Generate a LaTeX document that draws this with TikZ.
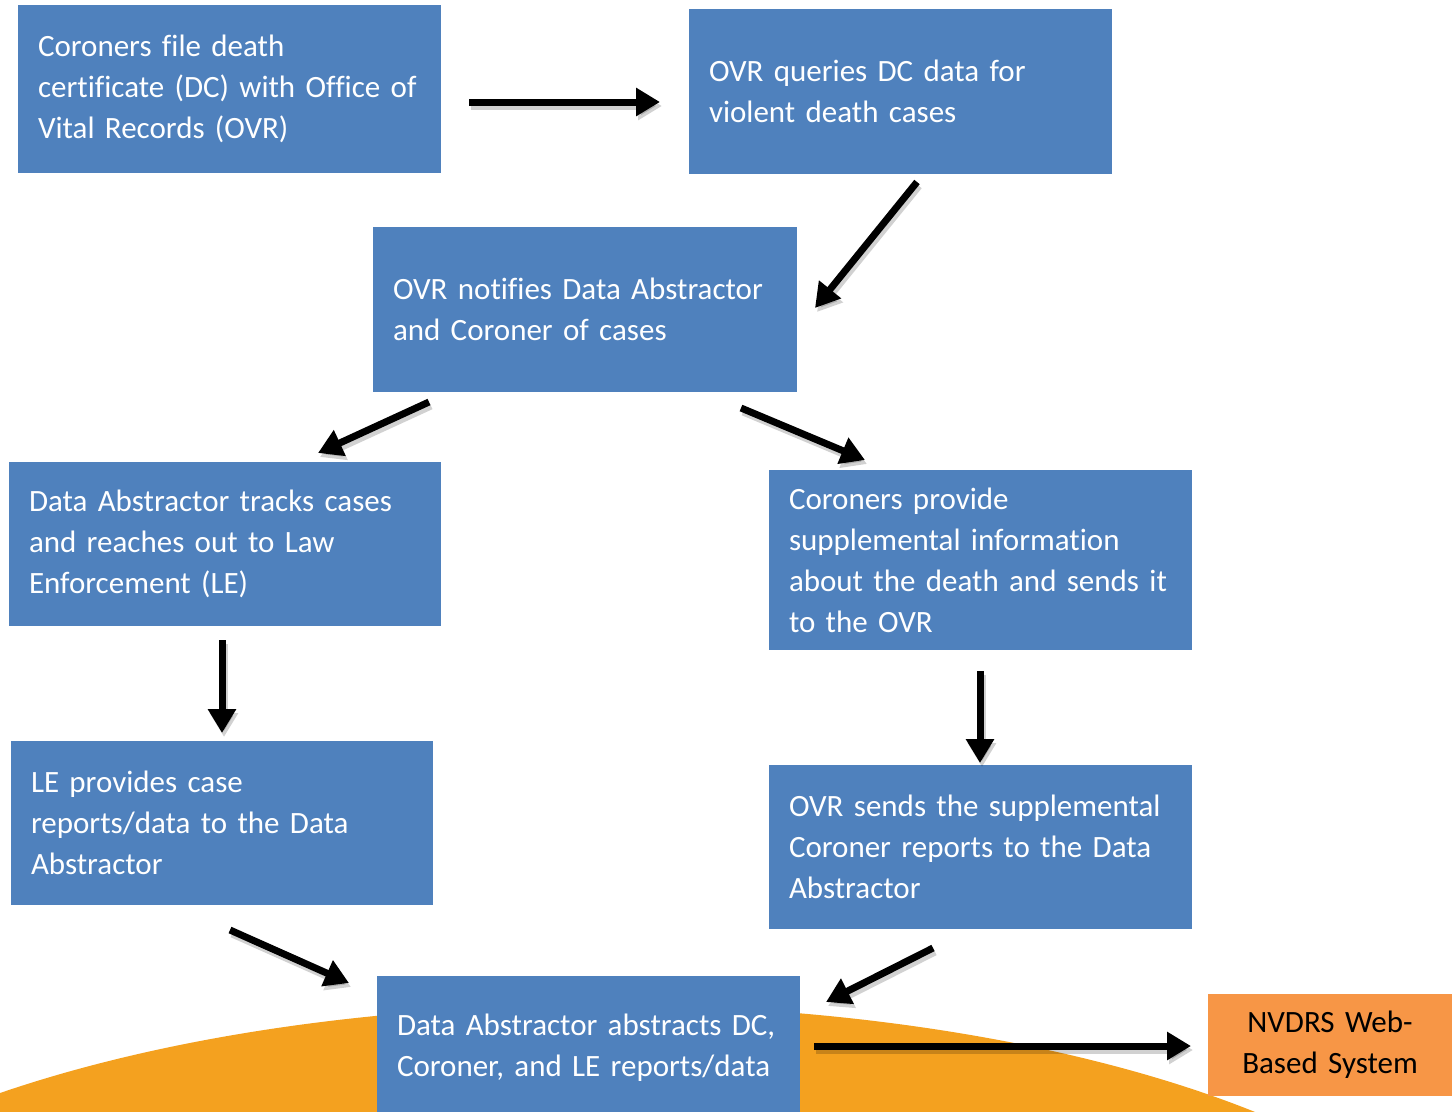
\documentclass[tikz,border=0pt]{standalone}
\usepackage{fontspec}
\setmainfont{Carlito}[Ligatures=CommonOff]
\usetikzlibrary{arrows.meta,calc}
\definecolor{boxblue}{HTML}{4F81BD}
\definecolor{arcorange}{HTML}{F4A11F}
\definecolor{sysorange}{HTML}{F79646}
\begin{document}
\begin{tikzpicture}[x=1pt,y=-1pt,
  bluebox/.style 2 args={rectangle, fill=boxblue, text=white, align=left,
    inner xsep=20pt, inner ysep=0pt, outer sep=0pt,
    text width=#1-40pt, minimum width=#1, minimum height=#2,
    font=\fontsize{31}{41}\selectfont, anchor=north west},
  sysbox/.style={rectangle, fill=sysorange, text=black, align=center,
    inner sep=0pt, outer sep=0pt, text width=224pt, minimum width=244pt,
    minimum height=102pt, font=\fontsize{31}{41}\selectfont, anchor=north west},
  conn/.style={line width=7pt, -{Triangle[length=24pt,width=27pt]}},
  shadow/.style={line width=7pt, black, opacity=0.18, -{Triangle[length=24pt,width=27pt]}}
]
\useasboundingbox (0,0) rectangle (1453,1111);
\clip (0,0) rectangle (1453,1111);
\fill[white] (0,0) rectangle (1453,1111);
% background arc
\fill[arcorange] (602,1348) ellipse [x radius=900, y radius=343];

\node[bluebox={423pt}{168pt}] (b1) at (18,5) {\mbox{Coroners file death}\\\mbox{certificate (DC) with Office of}\\\mbox{Vital Records (OVR)}};
\node[bluebox={423pt}{165pt}] (b2) at (689,9) {\mbox{OVR queries DC data for}\\\mbox{violent death cases}};
\node[bluebox={424pt}{165pt}] (b3) at (373,227) {\mbox{OVR notifies Data Abstractor}\\\mbox{and Coroner of cases}};
\node[bluebox={432pt}{164pt}] (b4) at (9,462) {\mbox{Data Abstractor tracks cases}\\\mbox{and reaches out to Law}\\\mbox{Enforcement (LE)}};
\node[bluebox={423pt}{180pt}] (b5) at (769,470) {\mbox{Coroners provide}\\\mbox{supplemental information}\\\mbox{about the death and sends it}\\\mbox{to the OVR}};
\node[bluebox={422pt}{164pt}] (b6) at (11,741) {\mbox{LE provides case}\\\mbox{reports/data to the Data}\\\mbox{Abstractor}};
\node[bluebox={423pt}{164pt}] (b7) at (769,765) {\mbox{OVR sends the supplemental}\\\mbox{Coroner reports to the Data}\\\mbox{Abstractor}};
\node[bluebox={423pt}{143pt}] (b8) at (377,976) {\mbox{Data Abstractor abstracts DC,}\\\mbox{Coroner, and LE reports/data}};
\node[sysbox] (b9) at (1208,994) {NVDRS Web-\\Based System};

\coordinate (a1s) at ($(b1.north east)+(28,97)$);
\coordinate (a1e) at ($(b2.north west)+(-29,93)$);
\coordinate (a2s) at ($(b2.south west)+(228,8)$);
\coordinate (a2e) at ($(b3.north east)+(18,81)$);
\coordinate (a3s) at ($(b3.south west)+(56,10)$);
\coordinate (a3e) at ($(b4.north west)+(309,-9)$);
\coordinate (a4s) at ($(b3.south east)+(-56,16)$);
\coordinate (a4e) at ($(b5.north west)+(96,-10)$);
\coordinate (a5s) at ($(b4.south west)+(213,14)$);
\coordinate (a5e) at ($(b6.north west)+(211,-8)$);
\coordinate (a6s) at ($(b5.south west)+(211,21)$);
\coordinate (a6e) at ($(b7.north west)+(211,-2)$);
\coordinate (a7s) at ($(b6.south west)+(219,25)$);
\coordinate (a7e) at ($(b8.north west)+(-28,7)$);
\coordinate (a8s) at ($(b7.south west)+(164,19)$);
\coordinate (a8e) at ($(b8.north east)+(26,26)$);
\coordinate (a9s) at ($(b8.north east)+(14,70)$);
\coordinate (a9e) at ($(b9.north west)+(-17,52)$);

\foreach \i in {1,...,9}{
  \draw[shadow] ($(a\i s)+(2,4)$) -- ($(a\i e)+(2,4)$);
}
\foreach \i in {1,...,9}{
  \draw[conn] (a\i s) -- (a\i e);
}
\end{tikzpicture}
\end{document}
